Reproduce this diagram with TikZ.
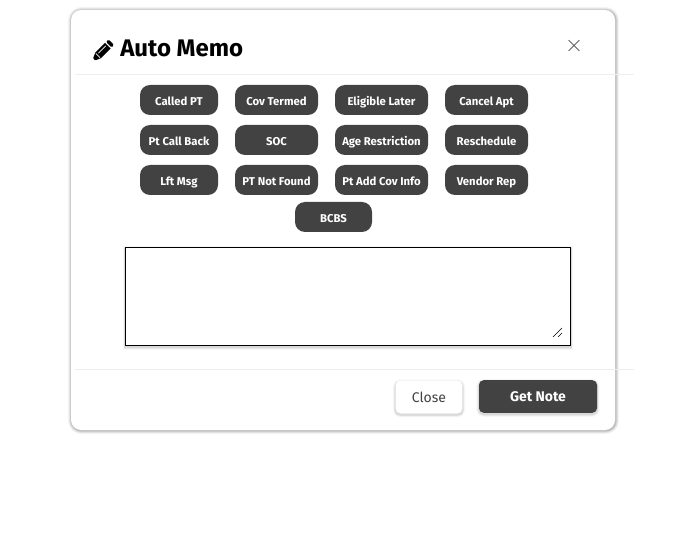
\documentclass[tikz,border=0pt]{standalone}
\usepackage{fontspec}
\setmainfont{Fira Sans}
\usepackage{xcolor}
\definecolor{btndark}{RGB}{66, 66, 66}
\definecolor{rulegray}{RGB}{238, 238, 238}
\definecolor{softgray}{RGB}{100, 100, 100}
\usetikzlibrary{shapes.misc,positioning}
\tikzset{
    softshadow/.style={
        preaction={draw=black, opacity=0.035, line width=5.5pt, transform canvas={xshift=0.4pt, yshift=-0.4pt}},
        preaction={draw=black, opacity=0.06, line width=4pt, transform canvas={xshift=0.4pt, yshift=-0.4pt}},
        preaction={draw=black, opacity=0.08, line width=2.6pt, transform canvas={xshift=0.4pt, yshift=-0.4pt}},
        preaction={draw=black, opacity=0.10, line width=1.4pt, transform canvas={xshift=0.4pt, yshift=-0.4pt}},
    },
    faintshadow/.style={
        preaction={draw=black, opacity=0.03, line width=4pt, transform canvas={yshift=-1pt}},
        preaction={draw=black, opacity=0.05, line width=2.6pt, transform canvas={yshift=-1pt}},
        preaction={draw=black, opacity=0.07, line width=1.4pt, transform canvas={yshift=-1pt}},
    },
    chip/.style={draw=none, fill=btndark, text=white, rounded corners=7.5pt, inner sep=0pt,
        minimum height=22.5pt, text height=8.5pt, text depth=0.5pt,
        font=\fontsize{8.5}{10}\selectfont\bfseries},
}
\begin{document}
\begin{tikzpicture}[x=0.75pt, y=-0.75pt]
    \useasboundingbox (0, 0) rectangle (684, 541);
    \fill[white] (0, 0) rectangle (684, 541);

    % Dialog
    \node[fill=white, softshadow, rounded corners=7.5pt, minimum width=408pt, minimum height=315pt, inner sep=0pt] (dialog) at (343, 220) {};
    \draw[rulegray] (75, 74) coordinate (headl) -- (634, 74) coordinate (headr);
    \draw[rulegray] (75, 369) coordinate (footl) -- (634, 369) coordinate (footr);

    % Title
    \begin{scope}[shift={(94, 59.5)}, rotate=-45]
        \fill[black] (0, 0) -- (-1.8, -0.8) -- (-4, -6) -- (-4, -19.5) -- (4, -19.5) -- (4, -6) -- (1.8, -0.8) -- cycle;
        \fill[black] (-4, -21) [rounded corners=1pt] -- (-4, -24.5) -- (4, -24.5) -- (4, -21) -- cycle;
        \fill[white] (-1.7, -7.5) rectangle (-1, -18);
        \fill[white] (-3, -6) -- (3, -6) -- (3, -5.2) -- (-3, -5.2) -- cycle;
    \end{scope}
    \node[right, inner sep=0pt, font=\fontsize{18}{22}\selectfont\bfseries] (title) at (120, 48) {Auto Memo};
    \node[draw=softgray, cross out, line width=0.6pt, inner sep=0pt, minimum width=7.5pt, minimum height=7.5pt] (closex) at (574, 45.5) {};

    % Row 1
    \node[chip, minimum width=58.5pt] (calledpt) at (179, 100) {Called PT};
    \node[chip, minimum width=62.25pt] (covtermed) at (276.5, 100) {Cov Termed};
    \node[chip, minimum width=69.75pt] (eligible) at (381.5, 100) {Eligible Later};
    \node[chip, minimum width=62.25pt] (cancelapt) at (486.5, 100) {Cancel Apt};

    % Row 2
    \node[chip, minimum width=58.5pt] (callback) at (179, 140) {Pt Call Back};
    \node[chip, minimum width=62.25pt] (soc) at (276.5, 140) {SOC};
    \node[chip, minimum width=69.75pt] (agerestr) at (381.5, 140) {Age Restriction};
    \node[chip, minimum width=62.25pt] (resched) at (486.5, 140) {Reschedule};

    % Row 3
    \node[chip, minimum width=58.5pt] (lftmsg) at (179, 180) {Lft Msg};
    \node[chip, minimum width=62.25pt] (notfound) at (276.5, 180) {PT Not Found};
    \node[chip, minimum width=69.75pt] (addcov) at (381.5, 180) {Pt Add Cov Info};
    \node[chip, minimum width=62.25pt] (vendor) at (486.5, 180) {Vendor Rep};

    \node[chip, minimum width=57.75pt] (bcbs) at (333.5, 217) {BCBS};

    % Text area
    \node[draw=black, fill=white, line width=0.8pt, faintshadow, minimum width=334pt, minimum height=73.5pt, inner sep=0pt] (memo) at (348, 296.5) {};
    \draw[black, line width=0.5pt] (553, 337) coordinate (gripa) -- (562, 328) coordinate (gripb);
    \draw[black, line width=0.5pt] (558, 337) coordinate (gripc) -- (562, 333) coordinate (gripd);

    % Footer buttons
    \node[fill=white, faintshadow, rounded corners=3.5pt, minimum width=50pt, minimum height=24.5pt, inner sep=0pt, text=btndark, text height=8.5pt, text depth=1pt, font=\fontsize{10.5}{12}\selectfont] (closebtn) at (429, 397) {Close};
    \node[fill=btndark, faintshadow, rounded corners=3.5pt, minimum width=88.5pt, minimum height=24.5pt, inner sep=0pt, text=white, text height=8.5pt, text depth=0.3pt, font=\fontsize{10.5}{12}\selectfont\bfseries] (getnote) at (538, 396.5) {Get Note};
\end{tikzpicture}
\end{document}
